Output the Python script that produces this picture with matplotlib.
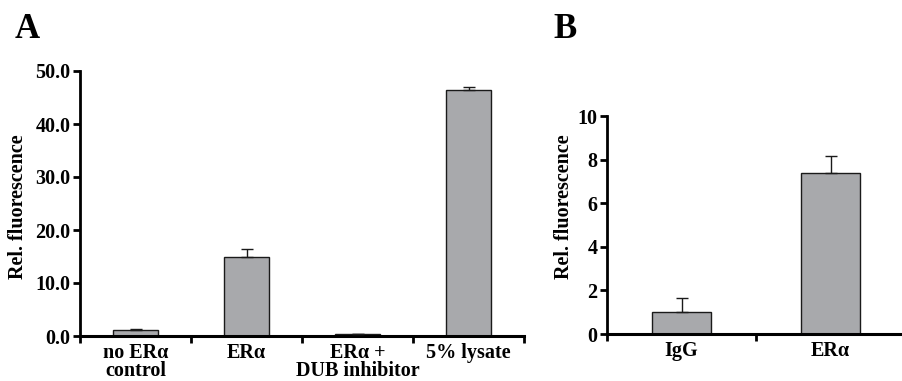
import matplotlib
matplotlib.use("Agg")
import matplotlib.pyplot as plt
import numpy as np

plt.rcParams['font.family'] = ['Liberation Serif', 'DejaVu Serif']
plt.rcParams['font.weight'] = 'bold'

cats_a = ["no ER\u03b1\ncontrol", "ER\u03b1", "ER\u03b1 +\nDUB inhibitor", "5% lysate"]
vals_a = [1.1, 15.0, 0.3, 46.4]
errs_a = [0.15, 1.5, 0.05, 0.5]
yticks_a = [0.0, 10.0, 20.0, 30.0, 40.0, 50.0]

cats_b = ["IgG", "ER\u03b1"]
vals_b = [1.0, 7.4]
errs_b = [0.65, 0.76]
yticks_b = [0, 2, 4, 6, 8, 10]

bar_color = '#a8a9ac'
fs = 14.5

fig = plt.figure(figsize=(9.02, 3.81), dpi=100)
axA = fig.add_axes([80/902, 1-336/381, (524-80)/902, (336-71)/381])
axB = fig.add_axes([607/902, 1-334/381, (905-607)/902, (334-116)/381])

def style(ax, n, cats, yticks, fmt, ymax):
    for s in ['top', 'right']:
        ax.spines[s].set_visible(False)
    ax.spines['left'].set_linewidth(2)
    ax.spines['bottom'].set_linewidth(2.2)
    ax.set_xlim(-0.5, n - 0.5)
    ax.set_ylim(0, ymax)
    ax.set_yticks(yticks)
    ax.set_yticklabels([fmt.format(v) for v in yticks], fontsize=fs, fontweight='bold')
    ax.set_xticks(range(n))
    ax.set_xticklabels(cats, fontsize=fs, fontweight='bold', linespacing=0.85)
    ax.tick_params(axis='x', which='major', length=0, pad=5)
    ax.set_xticks(np.arange(-0.5, n, 1.0), minor=True)
    ax.tick_params(axis='x', which='minor', length=5, width=2, direction='out')
    ax.tick_params(axis='y', length=5, width=2, direction='out', pad=2)

x = np.arange(len(cats_a))
axA.bar(x, vals_a, width=0.41, color=bar_color, edgecolor='#1a1a1a', linewidth=1.0, zorder=2)
axA.errorbar(x, vals_a, yerr=[np.zeros(len(errs_a)), errs_a], fmt='none', ecolor='#1a1a1a',
             elinewidth=1.0, capsize=4, capthick=1.0, zorder=3)
style(axA, len(cats_a), cats_a, yticks_a, "{:.1f}", 50.0)

xb = np.arange(len(cats_b))
axB.bar(xb, vals_b, width=0.4, color=bar_color, edgecolor='#1a1a1a', linewidth=1.0, zorder=2)
axB.errorbar(xb, vals_b, yerr=[np.zeros(len(errs_b)), errs_b], fmt='none', ecolor='#1a1a1a',
             elinewidth=1.0, capsize=4, capthick=1.0, zorder=3)
style(axB, len(cats_b), cats_b, yticks_b, "{:d}", 10)

fig.text(18/902, 1-207/381, "Rel. fluorescence", fontsize=fs, fontweight='bold',
         rotation=90, ha='center', va='center')
fig.text(564/902, 1-207/381, "Rel. fluorescence", fontsize=fs, fontweight='bold',
         rotation=90, ha='center', va='center')

fig.text(15/902, 1-38/381, "A", fontsize=25, fontweight='bold', ha='left', va='baseline')
fig.text(553/902, 1-38/381, "B", fontsize=25, fontweight='bold', ha='left', va='baseline')

fig.savefig("out.png", dpi=100)
